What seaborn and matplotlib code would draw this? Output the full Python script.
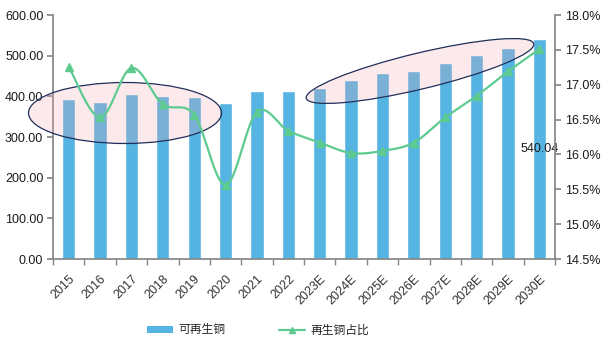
import numpy as np
import pandas as pd
import matplotlib
matplotlib.use("Agg")
import matplotlib.pyplot as plt
import seaborn as sns
from matplotlib.patches import Ellipse
from matplotlib.transforms import IdentityTransform
from matplotlib.lines import Line2D
from matplotlib.patches import Patch

years = ["2015", "2016", "2017", "2018", "2019", "2020", "2021", "2022",
         "2023E", "2024E", "2025E", "2026E", "2027E", "2028E", "2029E", "2030E"]
recycled = [393, 386, 406, 401, 398, 384, 414, 414,
            420, 440, 457, 462, 482, 502, 519, 540.04]
share = [17.26, 16.53, 17.24, 16.72, 16.57, 15.56, 16.61, 16.34,
         16.17, 16.02, 16.05, 16.17, 16.53, 16.84, 17.19, 17.51]
bar_label = "可再生铜"
line_label = "再生铜占比"

sns.set_theme(style="white")
plt.rcParams['font.family'] = ['Liberation Sans', 'Noto Sans CJK SC', 'DejaVu Sans']

W, H = 614, 343
fig = plt.figure(figsize=(W / 100, H / 100), dpi=100)
ax = fig.add_axes([53 / W, 1 - 259 / H, (555 - 53) / W, (259 - 15) / H])

df = pd.DataFrame({"year": years, "val": recycled})
bar_color = "#56B4E3"
sns.barplot(data=df, x="year", y="val", color=bar_color, width=0.42,
            saturation=1, ax=ax, zorder=2)
ax.set_xlim(-0.5, len(years) - 0.5)
ax.set_ylim(0, 600)
ax.set_yticks(np.arange(0, 601, 100))
ax.set_yticklabels([f"{v:.2f}" for v in np.arange(0, 601, 100)])
ax.set_xlabel("")
ax.set_ylabel("")
axis_col = "#868686"
for s in ["top", "right"]:
    ax.spines[s].set_visible(False)
ax.spines["left"].set_color(axis_col)
ax.spines["bottom"].set_color(axis_col)
ax.tick_params(axis="y", which="both", left=True, length=4, color=axis_col,
               labelsize=9, labelcolor="#1a1a1a", pad=3)
ax.set_xticks(np.arange(len(years)))
ax.set_xticklabels(years, rotation=45, ha="right", rotation_mode="anchor",
                   fontsize=9, color="#333333")
ax.set_xticks(np.arange(-0.5, len(years), 1), minor=True)
ax.tick_params(axis="x", which="major", bottom=False, pad=4)
ax.tick_params(axis="x", which="minor", bottom=True, length=4, color=axis_col)

# data label
ax.text(15, recycled[-1] / 2, f"{recycled[-1]:.2f}", ha="center", va="center",
        fontsize=9, color="#1a1a1a", zorder=6)

# secondary axis
ax2 = ax.twinx()
ax2.set_ylim(14.5, 18.0)
ax2.set_yticks(np.arange(14.5, 18.01, 0.5))
ax2.set_yticklabels([f"{v:.1f}%" for v in np.arange(14.5, 18.01, 0.5)])
for s in ["top", "left", "bottom"]:
    ax2.spines[s].set_visible(False)
ax2.spines["right"].set_color(axis_col)
ax2.tick_params(axis="y", right=True, length=4, color=axis_col, labelsize=9,
                labelcolor="#1a1a1a", pad=3)
ax2.grid(False)
ax.grid(False)

# smooth curve through points (Bezier smoothing as in spreadsheet charts)
x = np.arange(len(share), dtype=float)
y = np.array(share, dtype=float)
xs, ys = [], []
P = np.column_stack([x, y])
Pext = np.vstack([P[0], P, P[-1]])
for i in range(1, len(Pext) - 2):
    p0, p1, p2, p3 = Pext[i - 1], Pext[i], Pext[i + 1], Pext[i + 2]
    c1 = p1 + (p2 - p0) / 6
    c2 = p2 - (p3 - p1) / 6
    t = np.linspace(0, 1, 30)[:, None]
    pts = (1 - t) ** 3 * p1 + 3 * (1 - t) ** 2 * t * c1 + 3 * (1 - t) * t ** 2 * c2 + t ** 3 * p2
    xs.extend(pts[:, 0]); ys.extend(pts[:, 1])
line_col = "#5DCB8F"
ax2.plot(xs, ys, color=line_col, lw=1.6, zorder=5)
ax2.plot(x, y, linestyle="none", marker="^", color=line_col, markersize=5.5, zorder=5)

# ellipses (pixel coordinates, y flipped)
e1 = Ellipse((125, H - 113), 193, 61, angle=0, transform=IdentityTransform(),
             facecolor=(0.95, 0.65, 0.69, 0.24), edgecolor="#1F2F5A", lw=0.9)
e2 = Ellipse((420, H - 71), 234, 36, angle=13.5, transform=IdentityTransform(),
             facecolor=(0.95, 0.65, 0.69, 0.24), edgecolor="#1F2F5A", lw=0.9)
fig.add_artist(e1)
fig.add_artist(e2)
ax.set_zorder(1)
e1.set_zorder(1.5); e2.set_zorder(1.5)
ax2.set_zorder(2)
ax2.patch.set_visible(False)

handles = [Patch(facecolor=bar_color, edgecolor="none"),
           Line2D([0], [0], color=line_col, lw=1.6, marker="^", markersize=4)]
fig.legend(handles, [bar_label, line_label], loc="center", ncol=2,
           bbox_to_anchor=(258 / W, 1 - 330 / H), frameon=False,
           prop={"family": ["Noto Sans CJK SC", "DejaVu Sans"], "size": 8.5},
           columnspacing=4.6, handlelength=2.2, handleheight=0.6,
           handletextpad=0.45)

fig.savefig("out.png", dpi=100)
